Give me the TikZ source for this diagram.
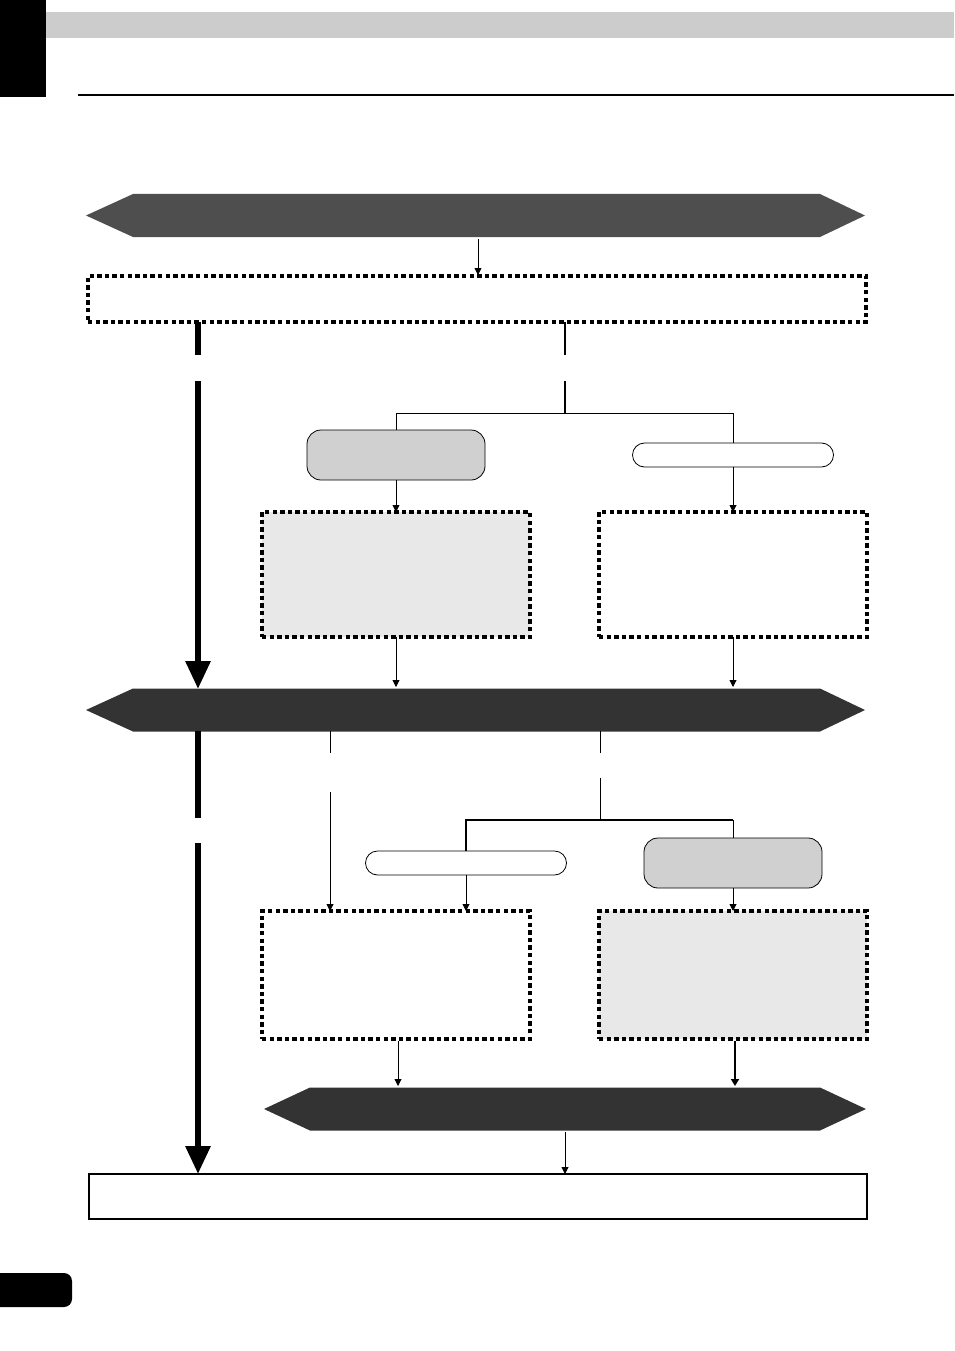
\documentclass[tikz,border=0pt]{standalone}
\usetikzlibrary{arrows.meta}
\definecolor{bannerA}{HTML}{4F4E4F}
\definecolor{bannerB}{HTML}{333333}
\definecolor{pillgray}{HTML}{D0D0D0}
\definecolor{boxgray}{HTML}{E8E8E8}
\definecolor{headgray}{HTML}{CCCCCC}
\tikzset{
  banner/.style={rectangle,inner sep=0pt,outer sep=0pt,minimum height=43pt},
  dotbox/.style={rectangle,draw=black,line width=3.2pt,dash pattern=on 4.4pt off 3.2pt,inner sep=0pt,outer sep=0pt},
  pillA/.style={rectangle,draw=black,line width=0.8pt,fill=pillgray,rounded corners=14pt,minimum width=178pt,minimum height=50pt,inner sep=0pt,outer sep=0pt},
  pillB/.style={rectangle,draw=black,line width=0.8pt,fill=white,rounded corners=12pt,minimum width=201pt,minimum height=24pt,inner sep=0pt,outer sep=0pt},
  thin/.style={line width=0.9pt},
  sarrow/.style={line width=0.9pt,-{Triangle[length=7pt,width=7pt]}},
  bigarrow/.style={line width=6pt,-{Triangle[length=28pt,width=24pt]}},
}
\begin{document}
\begin{tikzpicture}[x=1pt,y=-1pt]
\useasboundingbox (0,0) rectangle (954,1351);
% page decoration
\fill[black] (0,0) rectangle (46,97);
\fill[headgray] (46,12) rectangle (954,38);
\draw[line width=2pt] (78,95.5) -- (954,95.5);
\fill[black,rounded corners=8pt] (-10,1273) rectangle (72,1307);
% banners
\node[banner,minimum width=687pt] (b1) at (476.5,215.5) {};
\fill[bannerA] (b1.north west) -- ++(-47,21.5) -- (b1.south west) -- (b1.south east) -- ++(45,-21.5) -- (b1.north east) -- cycle;
\node[banner,minimum width=687pt] (b2) at (476.5,710) {};
\fill[bannerB] (b2.north west) -- ++(-47,21.5) -- (b2.south west) -- (b2.south east) -- ++(45,-21.5) -- (b2.north east) -- cycle;
\node[banner,minimum width=510pt] (b3) at (565,1109) {};
\fill[bannerB] (b3.north west) -- ++(-46,21.5) -- (b3.south west) -- (b3.south east) -- ++(46,-21.5) -- (b3.north east) -- cycle;
% boxes
\node[dotbox,minimum width=778pt,minimum height=46pt] (d0) at (477,299) {};
\node[dotbox,fill=boxgray,minimum width=268pt,minimum height=125pt] (d1) at (396,574.5) {};
\node[dotbox,minimum width=268pt,minimum height=125pt] (d2) at (733,574.5) {};
\node[dotbox,minimum width=268pt,minimum height=128pt] (d3) at (396,975) {};
\node[dotbox,fill=boxgray,minimum width=268pt,minimum height=128pt] (d4) at (733,975) {};
\node[rectangle,draw=black,line width=2.4pt,minimum width=778pt,minimum height=45pt,inner sep=0pt,outer sep=0pt] (fin) at (478,1196.5) {};
% pills
\node[pillA] (p1) at (396,455) {};
\node[pillB] (p2) at (733,455) {};
\node[pillB] (p3) at (466,863) {};
\node[pillA] (p4) at (733,863) {};
% coordinates
\coordinate (j1) at (565,413);
\coordinate (j2) at (600,820);
\coordinate (m1) at (330,792);
\coordinate (t1) at (198,843);
\coordinate (t2) at (565,1132);
% connectors top
\draw[sarrow] (478,239) -- (478,275);
\draw[line width=2.2pt] (565,322) -- (565,355);
\draw[line width=2.2pt] (565,381) -- (j1);
\draw[thin] (j1) -| (p1.north);
\draw[thin] (j1) -| (p2.north);
\draw[sarrow] (p1.south) -- (d1.north);
\draw[sarrow] (p2.south) -- (d2.north);
\draw[sarrow] (d1.south) -- (396,687);
\draw[sarrow] (d2.south) -- (733,687);
% thick left
\draw[line width=6pt] (198,322) -- (198,355);
\draw[bigarrow] (198,381) -- (198,689);
\draw[line width=6pt] (198,731) -- (198,818);
\draw[bigarrow] (t1) -- (t1 |- fin.north);
% middle connectors
\draw[thin] (330,731) -- (330,753);
\draw[sarrow] (m1) -- (m1 |- d3.north);
\draw[thin] (600,731) -- (600,753);
\draw[thin] (600,778) -- (j2);
\draw[line width=2pt] (j2) -| (p3.north);
\draw[thin] (j2) -| (p4.north);
\draw[line width=2pt] (j2) -- (p4.north |- j2);
\draw[sarrow] (p3.south) -- (p3.south |- d3.north);
\draw[sarrow] (p4.south) -- (d4.north);
\draw[sarrow] (398,1041) -- (398,1086);
\draw[line width=1.8pt,-{Triangle[length=7pt,width=8pt]}] (735,1041) -- (735,1086);
\draw[sarrow] (t2) -- (t2 |- fin.north);
\end{tikzpicture}
\end{document}
